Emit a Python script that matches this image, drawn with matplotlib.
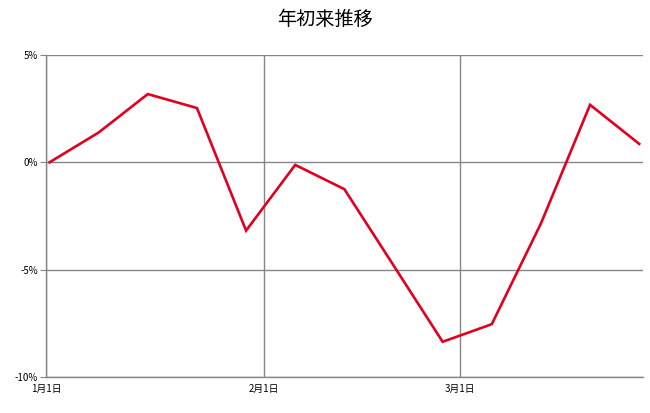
import datetime as dt
import matplotlib
matplotlib.use("Agg")
from matplotlib import pyplot as plt
from matplotlib.ticker import FuncFormatter

plt.rcParams['font.family'] = ['Noto Sans CJK JP', 'DejaVu Sans']

# weekly values since Jan 1 (%)
start = dt.datetime(2015, 1, 1)
week_offsets = [0, 7, 14, 21, 28, 35, 42, 49, 56, 63, 70, 77, 84]
returns = [0.0, 1.39, 3.18, 2.53, -3.18, -0.12, -1.25, -4.8, -8.36, -7.54, -2.85, 2.68, 0.86]
tick_dates = [dt.datetime(2015, 1, 1), dt.datetime(2015, 2, 1), dt.datetime(2015, 3, 1)]
tick_labels = ["1月1日", "2月1日", "3月1日"]
y_ticks = [-10, -5, 0, 5]

grey = "#868686"

fig = plt.figure(figsize=(6.5, 4.13), dpi=100)
ax = fig.add_axes([0.0708, 0.0872, 0.918, 0.7796])

# Excel date axis: each point sits in the middle of its day
dates = [start + dt.timedelta(days=d, hours=12) for d in week_offsets]
ax.plot(dates, returns, color="#E2001F", lw=1.9, solid_joinstyle="miter")

ax.set_xlim(start, start + dt.timedelta(days=week_offsets[-1] + 1))
ax.set_ylim(-10, 5)
ax.set_xticks(tick_dates)
ax.set_xticklabels(tick_labels)
ax.set_yticks(y_ticks)
ax.yaxis.set_major_formatter(FuncFormatter(lambda v, p: "%d%%" % v))

ax.grid(True, color=grey, lw=1)
ax.set_axisbelow(True)
for s in ["top", "right"]:
    ax.spines[s].set_visible(False)
for s in ["left", "bottom"]:
    ax.spines[s].set_color(grey)
    ax.spines[s].set_linewidth(1)
ax.tick_params(axis="y", length=4, color=grey, labelsize=7, pad=2)
ax.tick_params(axis="x", length=0, labelsize=7, pad=5)

fig.text(0.5, 0.952, "年初来推移", ha="center", va="center", fontsize=13.8)

fig.savefig("out.png", dpi=100)
